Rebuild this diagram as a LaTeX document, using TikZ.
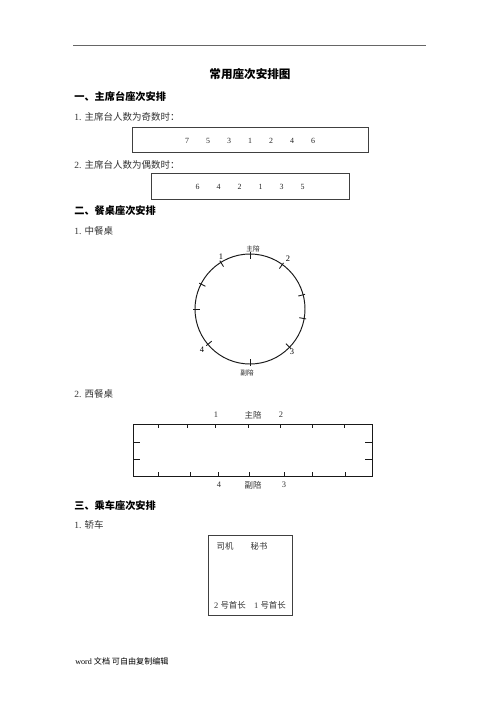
\documentclass[tikz,border=0pt]{standalone}
\usepackage{fontspec}
\setmainfont{Liberation Serif}
\newfontfamily\cjk{Noto Sans CJK SC}
\begin{document}
\begin{tikzpicture}[x=0.02cm,y=-0.02cm,
  heading/.style={anchor=west,inner sep=0pt,font=\cjk\bfseries\fontsize{5.8pt}{6pt}\selectfont},
  body/.style={anchor=west,inner sep=0pt,text=black!80,font=\fontsize{5.4pt}{6pt}\selectfont},
  seat/.style={inner sep=0pt,text=black!85,font=\fontsize{4.5pt}{5pt}\selectfont},
  small/.style={inner sep=0pt,text=black!85,font=\fontsize{3.8pt}{4pt}\selectfont},
  digit/.style={inner sep=0pt,text=black,font=\fontsize{4.8pt}{5pt}\selectfont},
  label/.style={inner sep=0pt,text=black!80,font=\fontsize{4.8pt}{5pt}\selectfont}]
\useasboundingbox[fill=white] (0,0) rectangle (500,707);
\draw[black!60,line width=0.4pt] (73,45)--(426,45);
\node[inner sep=0pt,font=\cjk\bfseries\fontsize{6.6pt}{7pt}\selectfont] (title) at (250,74) {常用座次安排图};
\node[heading] (h1) at (74,97) {一、主席台座次安排};
\node[body] (odd) at (74,117) {1. {\cjk 主席台人数为奇数时：}};
\draw[black!75,line width=0.5pt] (132,127) rectangle (368,152);
\foreach \n [count=\i] in {7,5,3,1,2,4,6}
  \node[seat] (odd\i) at (166+21*\i,141) {\n};
\node[body] (even) at (74,165) {2. {\cjk 主席台人数为偶数时：}};
\draw[black!75,line width=0.5pt] (151,173) rectangle (349,199);
\foreach \n [count=\i] in {6,4,2,1,3,5}
  \node[seat] (even\i) at (176.5+21*\i,187) {\n};
\node[heading] (h2) at (74,211) {二、餐桌座次安排};
\node[body] (round) at (74,231) {1. {\cjk 中餐桌}};
\draw[black!90,line width=0.55pt] (250,309) circle [radius=55];
\foreach \a in {90,122,153,180,220,270,316,350,15,54}
  \draw[black!90,line width=0.5pt,shift={(250,309)}] (-\a:57)--(-\a:50);
\node[small] (rhost) at (253,249) {\cjk 主陪};
\node[digit] (r1) at (221,257) {1};
\node[digit] (r2) at (288,259) {2};
\node[digit] (r3) at (292,352) {3};
\node[digit] (r4) at (202,350) {4};
\node[small] (rsub) at (247,373) {\cjk 副陪};
\node[body] (long) at (74,394) {2. {\cjk 西餐桌}};
\draw[black!90,line width=0.55pt] (133,424) rectangle (372,476);
\foreach \x in {158,187,215,248,280,312,344}
  \draw[black!90] (\x,424)--(\x,428);
\foreach \x in {158,190,218,249,284,312,345}
  \draw[black!90] (\x,476)--(\x,472);
\foreach \y in {442,459} {
  \draw[black!90] (133,\y)--(140,\y);
  \draw[black!90] (365,\y)--(372,\y);
}
\node[label] (l1) at (216,415) {1};
\node[label] (lhost) at (253,415) {\cjk 主陪};
\node[label] (l2) at (281,415) {2};
\node[label] (l4) at (219,485) {4};
\node[label] (lsub) at (253,485) {\cjk 副陪};
\node[label] (l3) at (284,485) {3};
\node[heading] (h3) at (74,506) {三、乘车座次安排};
\node[body] (car) at (74,525) {1. {\cjk 轿车}};
\draw[black!75,line width=0.5pt] (208,535) rectangle (292,615);
\node[label] (driver) at (225,546) {\cjk 司机};
\node[label] (secr) at (259,546) {\cjk 秘书};
\node[label] (chief2) at (230,605) {2 {\cjk 号首长}};
\node[label] (chief1) at (270,605) {1 {\cjk 号首长}};
\node[anchor=west,inner sep=0pt,font=\fontsize{4.6pt}{5pt}\selectfont] (foot) at (75,661) {word {\cjk 文档 可自由复制编辑}};
\end{tikzpicture}
\end{document}
